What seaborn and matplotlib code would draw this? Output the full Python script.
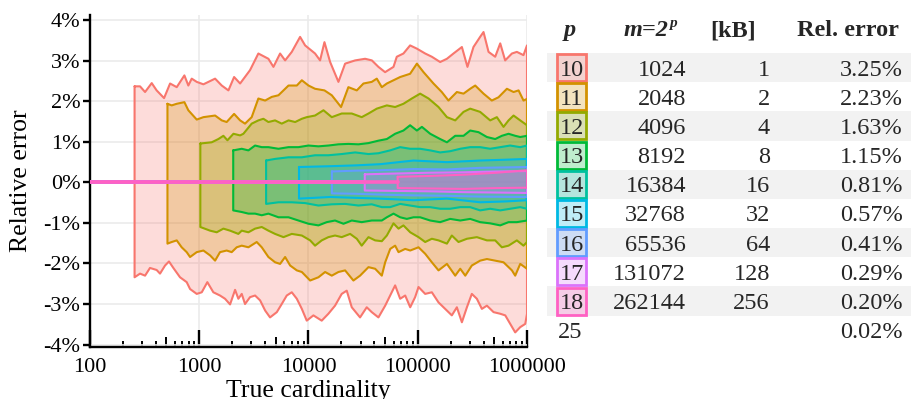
import numpy as np
import matplotlib
matplotlib.use('Agg')
import matplotlib.pyplot as plt
import matplotlib.ticker as mticker
from matplotlib.patches import Rectangle
import seaborn as sns

# --- Data ---
# x values are log10(true cardinality), y values are relative error in %
precisions = [10, 11, 12, 13, 14, 15, 16, 17, 18]
registers = [1024, 2048, 4096, 8192, 16384, 32768, 65536, 131072, 262144]
size_kb = [1, 2, 4, 8, 16, 32, 64, 128, 256]
rel_error = ['3.25%', '2.23%', '1.63%', '1.15%', '0.81%', '0.57%', '0.41%', '0.29%', '0.20%']
extra_p = 25
extra_err = '0.02%'

band_colors = ['#F8766D', '#D39200', '#93AA00', '#00BA38', '#00C19F',
               '#00B9E3', '#619CFF', '#DB72FB', '#FF61C3']

p10_hi_lgn = [2.408, 2.458, 2.504, 2.565, 2.610, 2.678, 2.733, 2.794, 2.864, 2.900, 2.931, 2.977, 3.038, 3.145, 3.206,
              3.267, 3.319, 3.374, 3.465, 3.541, 3.633, 3.679, 3.740, 3.786, 3.847, 3.923, 3.969, 4.060, 4.106, 4.146,
              4.198, 4.274, 4.335, 4.427, 4.518, 4.580, 4.640, 4.701, 4.778, 4.808, 4.869, 4.930, 4.992, 5.068, 5.129,
              5.205, 5.267, 5.327, 5.404, 5.455, 5.510, 5.571, 5.602, 5.648, 5.709, 5.755, 5.800, 5.862, 5.907, 5.968, 6.000]
p10_hi = [2.37, 2.37, 2.23, 2.45, 2.27, 2.08, 2.44, 2.35, 2.64, 2.39, 2.56, 2.48, 2.42, 2.56, 2.39,
          2.27, 2.60, 2.44, 2.77, 3.18, 3.05, 2.85, 3.18, 3.01, 3.22, 3.59, 3.38, 3.18, 3.01, 3.46,
          2.97, 2.48, 2.93, 3.01, 3.05, 3.01, 2.85, 2.72, 2.85, 3.10, 3.18, 3.38, 3.30, 3.18, 3.10,
          2.97, 3.05, 3.18, 3.34, 2.85, 3.34, 3.59, 3.71, 3.22, 3.10, 3.43, 3.01, 3.18, 3.22, 3.14, 3.38]
p10_lo_lgn = [2.408, 2.458, 2.504, 2.549, 2.610, 2.641, 2.687, 2.723, 2.763, 2.824, 2.885, 2.916, 2.977, 3.023, 3.074,
              3.129, 3.190, 3.236, 3.282, 3.328, 3.358, 3.389, 3.419, 3.465, 3.511, 3.557, 3.603, 3.648, 3.710, 3.755,
              3.801, 3.847, 3.893, 3.939, 3.984, 4.045, 4.121, 4.182, 4.243, 4.304, 4.350, 4.396, 4.472, 4.533, 4.579,
              4.640, 4.702, 4.748, 4.793, 4.839, 4.885, 4.931, 4.976, 5.007, 5.068, 5.129, 5.190, 5.251, 5.312, 5.358,
              5.404, 5.450, 5.495, 5.541, 5.587, 5.633, 5.694, 5.755, 5.801, 5.846, 5.892, 5.938, 5.984, 6.000]
p10_lo = [-2.34, -2.25, -2.30, -2.11, -2.16, -2.25, -2.05, -1.95, -2.11, -2.34, -2.46, -2.63, -2.75, -2.71, -2.46,
          -2.71, -2.79, -2.87, -3.01, -2.65, -2.87, -2.75, -3.00, -2.83, -2.79, -2.91, -3.16, -3.33, -3.20, -3.00,
          -2.79, -2.71, -2.87, -3.12, -3.41, -3.28, -3.41, -3.24, -3.04, -2.75, -2.67, -3.08, -3.33, -3.08, -3.20,
          -3.33, -3.04, -2.79, -2.54, -2.87, -2.79, -3.08, -2.83, -2.58, -2.75, -2.71, -2.96, -3.12, -3.28, -3.08,
          -3.45, -3.08, -2.75, -2.87, -3.12, -3.04, -3.20, -3.24, -3.28, -3.49, -3.70, -3.57, -3.49, -3.24]

p11_hi_lgn = [2.709, 2.748, 2.794, 2.864, 2.900, 2.977, 3.038, 3.145, 3.206, 3.251, 3.319, 3.374, 3.419, 3.480, 3.541,
              3.603, 3.664, 3.725, 3.771, 3.817, 3.893, 3.939, 4.000, 4.060, 4.146, 4.213, 4.298, 4.365, 4.442, 4.503,
              4.579, 4.625, 4.671, 4.717, 4.778, 4.839, 4.930, 4.992, 5.053, 5.144, 5.220, 5.281, 5.358, 5.419, 5.480,
              5.526, 5.602, 5.678, 5.739, 5.816, 5.877, 5.923, 5.968, 6.000]
p11_hi = [1.94, 1.90, 1.94, 1.98, 1.78, 1.55, 1.61, 1.65, 1.53, 1.49, 1.69, 1.53, 1.45, 1.61, 2.07,
          2.02, 2.11, 2.15, 2.27, 2.39, 2.39, 2.52, 2.39, 2.31, 2.27, 2.15, 1.86, 2.35, 2.27, 2.44,
          2.48, 2.56, 2.35, 2.44, 2.52, 2.60, 2.68, 2.93, 2.72, 2.44, 2.23, 2.02, 2.23, 2.19, 2.31,
          2.39, 2.19, 2.02, 2.10, 2.31, 2.23, 2.27, 2.02, 2.06]
p11_lo_lgn = [2.709, 2.748, 2.794, 2.839, 2.885, 2.916, 2.977, 3.038, 3.099, 3.145, 3.190, 3.251, 3.297, 3.343, 3.389,
              3.450, 3.526, 3.572, 3.633, 3.694, 3.740, 3.786, 3.832, 3.893, 3.939, 4.015, 4.091, 4.152, 4.213, 4.274,
              4.335, 4.411, 4.472, 4.549, 4.610, 4.671, 4.702, 4.748, 4.793, 4.824, 4.885, 4.931, 5.007, 5.068, 5.129,
              5.190, 5.267, 5.343, 5.389, 5.435, 5.495, 5.571, 5.633, 5.709, 5.785, 5.862, 5.892, 5.938, 6.000]
p11_lo = [-1.51, -1.47, -1.43, -1.60, -1.72, -1.84, -1.72, -1.68, -1.80, -1.93, -1.72, -1.68, -1.72, -1.60, -1.56,
          -1.60, -1.47, -1.60, -1.84, -1.97, -2.01, -1.84, -2.05, -2.17, -2.21, -2.42, -2.34, -2.21, -2.30, -2.21,
          -2.17, -2.42, -2.30, -2.09, -2.13, -2.30, -1.97, -1.64, -1.56, -1.72, -1.64, -1.68, -1.60, -1.76, -1.97,
          -2.17, -2.01, -2.30, -2.13, -2.30, -2.05, -1.93, -1.89, -1.93, -1.97, -2.17, -2.30, -2.01, -2.13]

p12_hi_lgn = [3.010, 3.114, 3.175, 3.221, 3.258, 3.313, 3.374, 3.404, 3.480, 3.541, 3.587, 3.633, 3.694, 3.755, 3.817,
              3.878, 3.939, 3.984, 4.060, 4.137, 4.213, 4.304, 4.396, 4.487, 4.549, 4.625, 4.717, 4.793, 4.869, 4.946,
              5.022, 5.099, 5.190, 5.267, 5.343, 5.419, 5.480, 5.571, 5.663, 5.724, 5.785, 5.831, 5.877, 5.938, 6.000]
p12_hi = [0.96, 0.99, 1.07, 1.15, 1.04, 1.20, 1.16, 1.20, 1.45, 1.53, 1.57, 1.49, 1.53, 1.45, 1.53,
          1.49, 1.57, 1.61, 1.65, 1.78, 1.61, 1.70, 1.70, 1.61, 1.70, 1.82, 1.90, 1.86, 1.94, 2.07,
          2.19, 2.07, 1.86, 1.61, 1.53, 1.74, 1.82, 1.74, 1.53, 1.61, 1.37, 1.53, 1.65, 1.53, 1.41]
p12_lo_lgn = [3.010, 3.099, 3.160, 3.221, 3.282, 3.358, 3.389, 3.450, 3.511, 3.572, 3.633, 3.694, 3.771, 3.847, 3.939,
              4.015, 4.060, 4.121, 4.182, 4.243, 4.304, 4.381, 4.442, 4.487, 4.549, 4.610, 4.671, 4.717, 4.778, 4.824,
              4.869, 4.931, 5.007, 5.068, 5.129, 5.190, 5.267, 5.312, 5.373, 5.450, 5.541, 5.633, 5.709, 5.770, 5.831,
              5.907, 5.968, 6.000]
p12_lo = [-1.10, -1.19, -1.23, -1.14, -1.19, -1.27, -1.19, -1.23, -1.14, -1.10, -1.19, -1.27, -1.35, -1.27, -1.31,
          -1.43, -1.56, -1.43, -1.35, -1.31, -1.35, -1.27, -1.39, -1.56, -1.35, -1.43, -1.45, -1.31, -1.01, -1.14,
          -1.06, -1.23, -1.35, -1.47, -1.39, -1.43, -1.51, -1.31, -1.47, -1.39, -1.35, -1.43, -1.43, -1.60, -1.56,
          -1.43, -1.56, -1.47]

p13_hi_lgn = [3.311, 3.389, 3.450, 3.511, 3.572, 3.633, 3.725, 3.817, 3.908, 4.000, 4.091, 4.182, 4.274, 4.365, 4.457,
              4.549, 4.640, 4.717, 4.793, 4.869, 4.930, 4.992, 5.038, 5.114, 5.205, 5.267, 5.343, 5.419, 5.480, 5.556,
              5.633, 5.709, 5.770, 5.831, 5.892, 5.938, 6.000]
p13_hi = [0.79, 0.83, 0.79, 0.91, 0.87, 0.87, 0.83, 0.87, 0.87, 0.91, 0.89, 0.91, 0.94, 0.95, 0.94,
          0.97, 1.03, 1.07, 1.20, 1.28, 1.41, 1.28, 1.37, 1.20, 1.07, 0.99, 1.15, 1.15, 1.28, 1.24,
          1.12, 1.07, 1.15, 1.20, 1.15, 1.12, 1.15]
p13_lo_lgn = [3.311, 3.389, 3.450, 3.511, 3.572, 3.633, 3.725, 3.817, 3.908, 4.000, 4.091, 4.167, 4.243, 4.320, 4.396,
              4.487, 4.579, 4.671, 4.717, 4.778, 4.839, 4.900, 4.961, 5.022, 5.114, 5.205, 5.297, 5.389, 5.480, 5.571,
              5.663, 5.755, 5.831, 5.907, 6.000]
p13_lo = [-0.69, -0.73, -0.77, -0.77, -0.81, -0.77, -0.86, -0.86, -0.94, -1.02, -1.06, -0.98, -0.94, -1.02, -0.94,
          -0.98, -0.94, -0.94, -0.86, -0.77, -0.86, -0.90, -0.86, -0.86, -0.94, -0.98, -0.90, -0.94, -0.90, -0.98,
          -1.01, -1.06, -0.98, -0.98, -0.94]

p14_hi_lgn = [3.612, 3.694, 3.817, 3.939, 4.060, 4.182, 4.304, 4.427, 4.549, 4.640, 4.747, 4.839, 4.930, 5.022, 5.114,
              5.205, 5.297, 5.389, 5.480, 5.571, 5.663, 5.755, 5.846, 5.938, 6.000]
p14_hi = [0.54, 0.58, 0.62, 0.62, 0.67, 0.67, 0.70, 0.74, 0.70, 0.72, 0.79, 0.87, 0.83, 0.83, 0.79,
          0.74, 0.77, 0.83, 0.87, 0.87, 0.83, 0.87, 0.91, 0.87, 0.91]
p14_lo_lgn = [3.612, 3.725, 3.847, 3.969, 4.091, 4.213, 4.335, 4.457, 4.579, 4.671, 4.747, 4.839, 4.930, 5.022, 5.114,
              5.205, 5.297, 5.389, 5.480, 5.571, 5.663, 5.755, 5.846, 5.938, 6.000]
p14_lo = [-0.53, -0.49, -0.49, -0.51, -0.57, -0.54, -0.53, -0.57, -0.54, -0.61, -0.61, -0.53, -0.57, -0.61, -0.61,
          -0.65, -0.65, -0.61, -0.61, -0.69, -0.65, -0.69, -0.65, -0.61, -0.65]

p15_lgn = [3.913, 4.198, 4.427, 4.656, 4.961, 5.267, 5.571, 5.800, 6.000]
p15_hi = [0.38, 0.40, 0.42, 0.45, 0.54, 0.50, 0.54, 0.56, 0.58]
p15_lo = [-0.40, -0.36, -0.38, -0.40, -0.44, -0.40, -0.49, -0.47, -0.44]

p16_lgn = [4.214, 4.427, 4.656, 4.961, 5.267, 5.571, 6.000]
p16_hi = [0.27, 0.29, 0.30, 0.33, 0.32, 0.36, 0.38]
p16_lo = [-0.27, -0.28, -0.30, -0.32, -0.33, -0.35, -0.36]

p17_lgn = [4.515, 4.808, 5.114, 5.419, 5.724, 6.000]
p17_hi = [0.20, 0.22, 0.24, 0.25, 0.27, 0.28]
p17_lo = [-0.20, -0.21, -0.22, -0.24, -0.25, -0.26]

p18_lgn = [4.816, 5.114, 5.419, 5.724, 6.000]
p18_hi = [0.14, 0.16, 0.19, 0.24, 0.30]
p18_lo = [-0.14, -0.15, -0.16, -0.14, -0.13]

bands = [
    (p10_hi_lgn, p10_hi, p10_lo_lgn, p10_lo),
    (p11_hi_lgn, p11_hi, p11_lo_lgn, p11_lo),
    (p12_hi_lgn, p12_hi, p12_lo_lgn, p12_lo),
    (p13_hi_lgn, p13_hi, p13_lo_lgn, p13_lo),
    (p14_hi_lgn, p14_hi, p14_lo_lgn, p14_lo),
    (p15_lgn, p15_hi, p15_lgn, p15_lo),
    (p16_lgn, p16_hi, p16_lgn, p16_lo),
    (p17_lgn, p17_hi, p17_lgn, p17_lo),
    (p18_lgn, p18_hi, p18_lgn, p18_lo),
]

# --- Style ---
sns.set_theme(style='whitegrid')
plt.rcParams['font.family'] = ['Liberation Serif', 'DejaVu Serif']
pal = sns.color_palette(band_colors)

fig = plt.figure(figsize=(9.12, 3.99), dpi=100)
ax = fig.add_axes([90 / 912, 52 / 399, 437 / 912, 332 / 399])

# --- Error bands ---
for i, (hx, hy, lx, ly) in enumerate(bands):
    c = pal[i]
    xs = np.r_[10 ** np.array(hx), 10 ** np.array(lx)[::-1]]
    ys = np.r_[hy, ly[::-1]]
    ax.fill(xs, ys, color=c, alpha=0.25, lw=0, zorder=2 + i)
    sns.lineplot(x=np.r_[xs, xs[0]], y=np.r_[ys, ys[0]], sort=False, estimator=None,
                 color=c, lw=1.5, ax=ax, zorder=2 + i)
    sns.lineplot(x=[100, 10 ** hx[0]], y=[0, 0], color=c, lw=2.6, ax=ax, zorder=2 + i)

ax.set_xscale('log')
ax.set_xlim(100, 1e6)
ax.set_ylim(-4.06, 4.13)
ax.set_yticks(range(-4, 5))
ax.yaxis.set_major_formatter(mticker.FuncFormatter(lambda v, _: f'{v:.0f}%'))
ax.set_xticks([100, 1000, 10000, 100000, 1000000])
ax.set_xticklabels(['100', '1000', '10000', '100000', '1000000'])
ax.xaxis.set_minor_locator(mticker.LogLocator(base=10, subs=(2, 3, 4, 6, 7, 8, 9)))
ax.xaxis.set_minor_formatter(mticker.NullFormatter())

ax.set_axisbelow(True)
ax.grid(True, which='major', color='#EBEBEB', lw=1.2)
ax.grid(False, which='minor')
for side in ['top', 'right']:
    ax.spines[side].set_visible(False)
for side in ['left', 'bottom']:
    ax.spines[side].set_color('black')
    ax.spines[side].set_linewidth(1.7)

ax.tick_params(axis='x', which='major', bottom=True, direction='in', length=12, width=1.7,
               color='black', labelsize=16, pad=8, labelcolor='black')
ax.tick_params(axis='x', which='minor', bottom=True, direction='in', length=4.5, width=1.4, color='black')
ax.tick_params(axis='y', which='major', left=True, direction='out', length=5, width=1.7,
               color='black', labelsize=16, pad=2, labelcolor='black')

# mid-length ticks at 5 x 10^k
sec = ax.secondary_xaxis('bottom')
sec.xaxis.set_major_locator(mticker.LogLocator(base=10, subs=(5,)))
sec.xaxis.set_major_formatter(mticker.NullFormatter())
sec.xaxis.set_minor_locator(mticker.NullLocator())
sec.tick_params(axis='x', direction='in', length=7.5, width=1.4, color='black')
sec.spines['bottom'].set_visible(False)

ax.set_xlabel('True cardinality', fontsize=18.5, labelpad=2, color='black')
ax.set_ylabel('Relative error', fontsize=18.5, labelpad=8, color='black')

# --- Table on the right ---
tax = fig.add_axes([547 / 912, 52 / 399, 365 / 912, 332 / 399])
tax.set_xlim(547, 912)
tax.set_ylim(9.572, -1.798)
tax.axis('off')

fs = 17.5
hy = -1.35
tax.text(570, hy, 'p', ha='center', va='center_baseline', fontsize=fs, fontweight='bold', fontstyle='italic')
tax.text(668, hy, 'm=2', ha='right', va='center_baseline', fontsize=fs, fontweight='bold', fontstyle='italic')
tax.text(669, hy - 0.22, 'p', ha='left', va='center_baseline', fontsize=11, fontweight='bold', fontstyle='italic')
tax.text(733, hy, '[kB]', ha='center', va='center_baseline', fontsize=fs, fontweight='bold')
tax.text(848, hy, 'Rel. error', ha='center', va='center_baseline', fontsize=fs, fontweight='bold')

for i, (p, m, kb, err) in enumerate(zip(precisions, registers, size_kb, rel_error)):
    if i % 2 == 0:
        tax.axhspan(i - 0.5, i + 0.5, color='#F2F2F2', lw=0, zorder=0)
    tax.add_patch(Rectangle((557.5, i - 0.46), 29, 0.92, facecolor=(*pal[i], 0.25),
                            edgecolor=pal[i], lw=2, zorder=2))
    tax.text(572, i, str(p), ha='center', va='center_baseline', fontsize=fs, zorder=3)
    tax.text(686, i, str(m), ha='right', va='center_baseline', fontsize=fs)
    tax.text(770, i, str(kb), ha='right', va='center_baseline', fontsize=fs)
    tax.text(903, i, err, ha='right', va='center_baseline', fontsize=fs)

tax.text(570, 9, str(extra_p), ha='center', va='center_baseline', fontsize=fs)
tax.text(903, 9, extra_err, ha='right', va='center_baseline', fontsize=fs)

fig.savefig('out.png', dpi=100)
